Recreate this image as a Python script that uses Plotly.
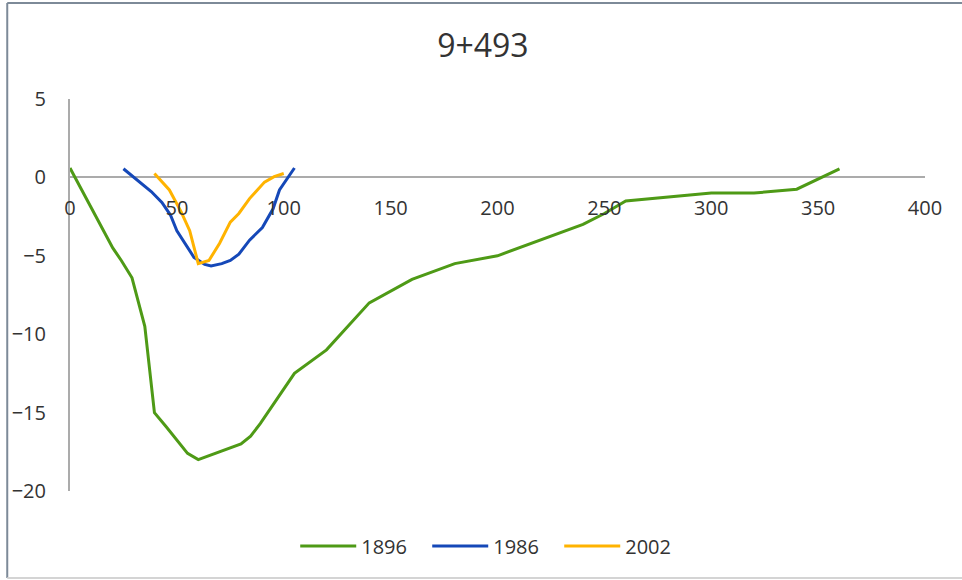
import plotly.graph_objects as go

# Cross-section 9+493: bed profiles surveyed in three years
x_1896 = [0, 20, 24, 29, 35, 39.5, 45, 49.5, 55, 60, 80, 84.5, 89, 105, 120,
          140, 160, 180, 200, 240, 250, 260, 300, 320, 340, 360]
y_1896 = [0.6, -4.5, -5.3, -6.4, -9.5, -15.0, -15.9, -16.7, -17.6, -18.0, -17.0,
          -16.5, -15.7, -12.5, -11.0, -8.0, -6.5, -5.5, -5.0, -3.0, -2.3, -1.5,
          -1.0, -1.0, -0.75, 0.55]

x_1986 = [25, 38, 43, 47, 50, 55, 58, 63, 66, 71, 75, 79, 84, 90, 95, 98, 101, 105]
y_1986 = [0.55, -0.9, -1.6, -2.4, -3.4, -4.5, -5.1, -5.55, -5.65, -5.5, -5.3,
          -4.9, -4.0, -3.2, -2.0, -0.8, -0.2, 0.6]

x_2002 = [39.5, 46.5, 52, 56, 60, 65, 70, 75, 79, 84, 91, 95.5, 100]
y_2002 = [0.25, -0.8, -2.2, -3.4, -5.5, -5.3, -4.2, -2.85, -2.3, -1.35, -0.3,
          0.05, 0.25]

series = [
    ("1896", x_1896, y_1896, "#4E9A16"),
    ("1986", x_1986, y_1986, "#1548B8"),
    ("2002", x_2002, y_2002, "#FFB300"),
]

FONT = "Open Sans"
TEXT = "#333333"
AXIS_GREY = "#ABABAB"

fig = go.Figure()
for name, xs, ys, color in series:
    fig.add_trace(go.Scatter(x=xs, y=ys, name=name, mode="lines",
                             line=dict(color=color, width=3)))

# Chart-area border
border = [
    dict(x0=-0.0734, x1=-0.0734, y0=-0.222, y1=1.245, color="#7D8A98"),
    dict(x0=-0.0734, x1=1.045, y0=1.245, y1=1.245, color="#7D8A98"),
    dict(x0=-0.0734, x1=1.045, y0=-0.222, y1=-0.222, color="#D4D4D4"),
]
for b in border:
    fig.add_shape(type="line", xref="paper", yref="paper",
                  x0=b["x0"], x1=b["x1"], y0=b["y0"], y1=b["y1"],
                  line=dict(color=b["color"], width=2))

fig.update_layout(
    width=962, height=580,
    margin=dict(l=66, r=37, t=99, b=89),
    paper_bgcolor="white", plot_bgcolor="white",
    font=dict(family=FONT, size=20, color=TEXT),
    title=dict(text="9+493", x=0.502, xref="container", y=1 - 46 / 580,
               yref="container", xanchor="center", yanchor="middle",
               font=dict(family=FONT, size=32, color=TEXT)),
    showlegend=True,
    legend=dict(orientation="h", x=0.495, xanchor="center", y=-0.14,
                yanchor="middle", itemwidth=56, entrywidth=61,
                font=dict(family=FONT, size=20, color=TEXT),
                bgcolor="rgba(0,0,0,0)"),
    xaxis=dict(range=[0, 400], dtick=50, tick0=0, showgrid=False,
               zeroline=False, showline=False, anchor="free", position=0.8,
               ticks="", ticklabelstandoff=17,
               tickfont=dict(family=FONT, size=20, color=TEXT)),
    yaxis=dict(range=[-20, 5], dtick=5, tick0=0, showgrid=False,
               zeroline=True, zerolinecolor=AXIS_GREY, zerolinewidth=2,
               showline=True, linecolor=AXIS_GREY, linewidth=2,
               ticks="", ticklabelstandoff=18,
               tickfont=dict(family=FONT, size=20, color=TEXT)),
)

fig.write_html("out.html")
